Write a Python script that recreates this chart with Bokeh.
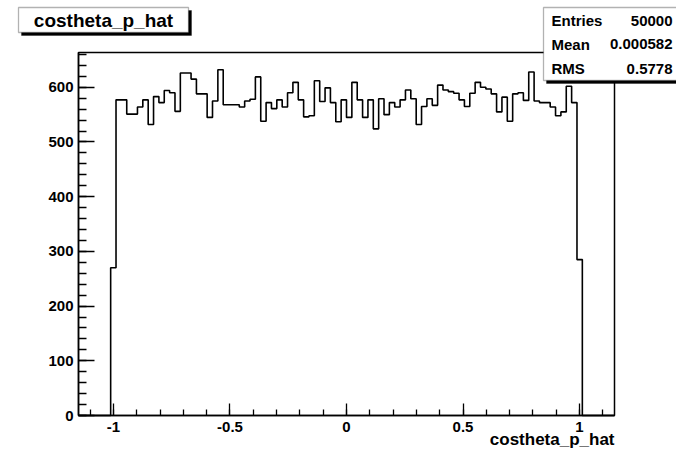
import numpy as np
from bokeh.plotting import figure
from bokeh.models import FixedTicker, Label, BoxAnnotation, Range1d
from bokeh.embed import file_html
from bokeh.resources import INLINE

# ---------------- data ----------------
hist_name = "costheta_p_hat"
x_low, x_high, n_bins = -1.15, 1.15, 100
first_filled_bin = 6
counts = [270,
          577, 577, 551, 551, 564, 577, 532, 583, 572, 594,
          590, 556, 626, 626, 615, 588, 588, 545, 575, 632,
          568, 568, 568, 564, 575, 578, 619, 538, 572, 561,
          577, 564, 590, 609, 577, 546, 548, 612, 574, 599,
          572, 537, 577, 545, 609, 577, 545, 577, 524, 579,
          550, 572, 564, 577, 595, 579, 532, 565, 579, 567,
          604, 595, 592, 589, 577, 565, 589, 609, 600, 597,
          588, 555, 582, 538, 588, 590, 576, 628, 575, 572,
          572, 564, 548, 555, 602, 572,
          285]
stat_names = ["Entries", "Mean", "RMS"]
stat_values = ["50000", "0.000582", "0.5778"]
x_ticks = [-1, -0.5, 0, 0.5, 1]
x_tick_labels = ["-1", "-0.5", "0", "0.5", "1"]
y_ticks = [0, 100, 200, 300, 400, 500, 600]

# ---------------- layout ----------------
W, H = 676, 450
FX0, FY0, FX1, FY1 = 78, 52, 614, 415   # histogram frame in canvas pixels
FONT = "Liberation Sans"

full = np.zeros(n_bins)
full[first_filled_bin:first_filled_bin + len(counts)] = counts
edges = np.linspace(x_low, x_high, n_bins + 1)
ymax = 1.05 * max(counts)

sx = (x_high - x_low) / (FX1 - FX0)
sy = ymax / (FY1 - FY0)


def dx(px):
    return x_low + (px - FX0) * sx


def dy(py):
    return (FY1 - py) * sy


p = figure(width=W, height=H, x_range=Range1d(dx(0), dx(W)), y_range=Range1d(dy(H), dy(0)),
           output_backend="svg", toolbar_location=None,
           min_border_left=0, min_border_right=0, min_border_top=0, min_border_bottom=0)
p.background_fill_color = "white"
p.border_fill_color = "white"
p.outline_line_color = None
p.grid.visible = False

# frame box
p.line([x_low, x_high, x_high, x_low, x_low], [0, 0, ymax, ymax, 0], line_color="black", line_width=1.5)

# histogram
p.step(edges, np.append(full, full[-1]), mode="after", line_color="black", line_width=1.6)

# axes
p.xaxis.ticker = FixedTicker(ticks=x_ticks, minor_ticks=list(np.round(np.arange(-1.1, 1.11, 0.1), 2)))
p.xaxis.major_label_overrides = {t: s for t, s in zip(x_ticks, x_tick_labels)}
p.yaxis.ticker = FixedTicker(ticks=y_ticks, minor_ticks=list(range(0, 661, 20)))
p.xaxis.fixed_location = 0
p.yaxis.fixed_location = x_low
p.xaxis.bounds = (x_low, x_high)
p.yaxis.bounds = (0, ymax)
for ax in (p.xaxis, p.yaxis):
    ax.axis_line_color = "black"
    ax.axis_line_width = 1.5
    ax.major_tick_line_color = "black"
    ax.minor_tick_line_color = "black"
    ax.major_tick_line_width = 1.3
    ax.minor_tick_line_width = 1.3
    ax.major_tick_out = 0
    ax.minor_tick_out = 0
    ax.major_label_text_font = FONT
    ax.major_label_text_font_size = "15px"
    ax.major_label_text_font_style = "bold"
    ax.major_label_text_color = "black"
    ax.axis_label = None
p.xaxis.major_tick_in = 12
p.xaxis.minor_tick_in = 6
p.yaxis.major_tick_in = 16
p.yaxis.minor_tick_in = 8
p.xaxis.major_label_standoff = 6
p.yaxis.major_label_standoff = 5

# x-axis title (right aligned, ROOT style)
p.add_layout(Label(x=x_high, y=dy(439), text=hist_name, text_align="right", text_baseline="middle",
                   text_font=FONT, text_font_size="17px", text_font_style="bold", text_color="black"))

# title box with shadow
p.add_layout(BoxAnnotation(left=dx(21), right=dx(191), top=dy(10), bottom=dy(35),
                           fill_color="black", fill_alpha=1, line_color="black"))
p.add_layout(BoxAnnotation(left=dx(18), right=dx(188), top=dy(7), bottom=dy(32),
                           fill_color="white", fill_alpha=1, line_color="black", line_width=1.3))
p.add_layout(Label(x=dx(103), y=dy(20), text=hist_name, text_align="center", text_baseline="middle",
                   text_font=FONT, text_font_size="19px", text_font_style="bold", text_color="black"))

# stats box with shadow
p.add_layout(BoxAnnotation(left=dx(546), right=dx(700), top=dy(10), bottom=dy(83),
                           fill_color="black", fill_alpha=1, line_color="black"))
p.add_layout(BoxAnnotation(left=dx(543), right=dx(700), top=dy(7), bottom=dy(80),
                           fill_color="white", fill_alpha=1, line_color="black", line_width=1.3))
row_y = [20, 43.5, 68]
for name, val, ry in zip(stat_names, stat_values, row_y):
    p.add_layout(Label(x=dx(551), y=dy(ry), text=name, text_align="left", text_baseline="middle",
                       text_font=FONT, text_font_size="15px", text_font_style="bold", text_color="black"))
    p.add_layout(Label(x=dx(672), y=dy(ry), text=val, text_align="right", text_baseline="middle",
                       text_font=FONT, text_font_size="15px", text_font_style="bold", text_color="black"))

open("out.html", "w").write(file_html(p, INLINE))
